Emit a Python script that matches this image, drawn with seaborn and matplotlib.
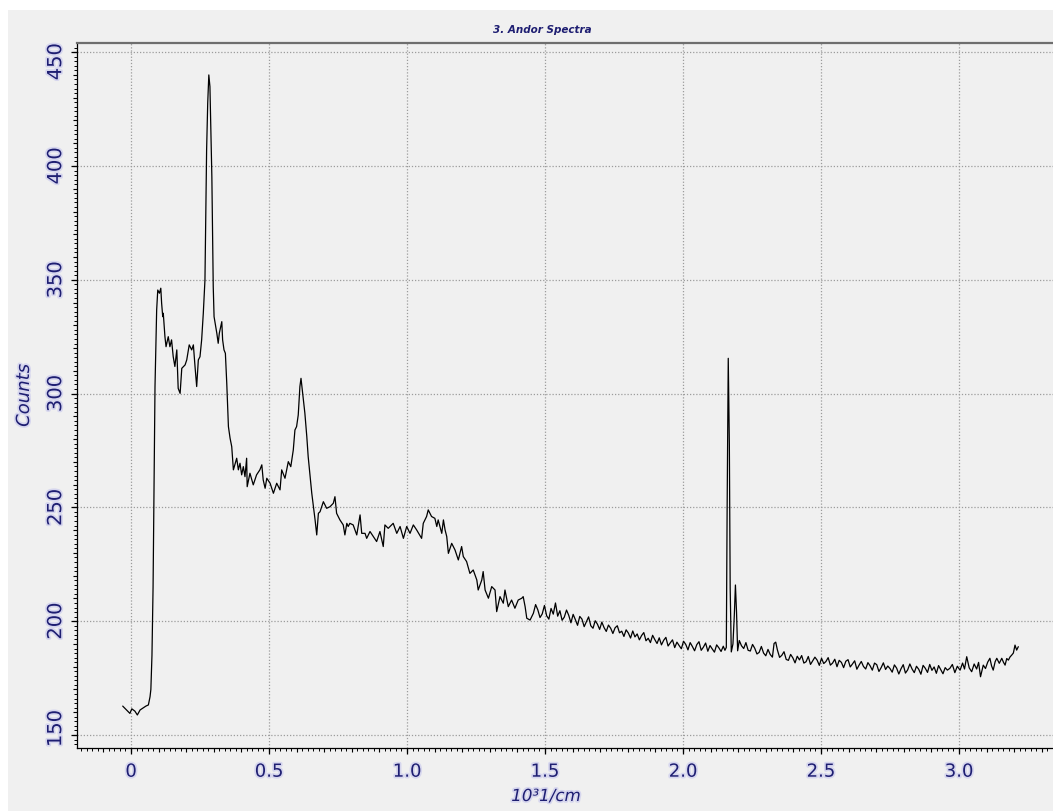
import matplotlib
matplotlib.use("Agg")
import matplotlib.pyplot as plt
import seaborn as sns
import pandas as pd
from matplotlib.ticker import MultipleLocator, NullFormatter, NullLocator
from matplotlib.patches import Rectangle
from matplotlib.transforms import ScaledTranslation
from matplotlib import patheffects as pe

# ---------------- data ----------------
wn_peaks = [
    -0.030, -0.016, -0.004, 0.003, 0.014, 0.023, 0.033, 0.045, 0.054, 0.063,
    0.069, 0.072, 0.076, 0.080, 0.083, 0.087, 0.093, 0.097, 0.103, 0.108,
    0.111, 0.115, 0.117, 0.123, 0.127, 0.135, 0.141, 0.147, 0.153, 0.159,
    0.166, 0.171, 0.178, 0.184, 0.196, 0.202, 0.211, 0.220, 0.226, 0.232,
    0.238, 0.244, 0.250, 0.256, 0.262, 0.268, 0.272, 0.274, 0.278, 0.282,
    0.286, 0.289, 0.293, 0.296, 0.298, 0.301, 0.311, 0.316, 0.320, 0.329,
    0.332, 0.337, 0.342, 0.347, 0.353, 0.359, 0.365, 0.371, 0.383, 0.389,
    0.395, 0.401, 0.407, 0.413, 0.419, 0.421, 0.431, 0.443, 0.455, 0.467,
    0.474, 0.479, 0.486, 0.492, 0.504, 0.516, 0.528, 0.540, 0.546, 0.558,
    0.570, 0.579, 0.588, 0.594, 0.600, 0.606, 0.612, 0.616, 0.622, 0.630,
    0.637, 0.642, 0.649, 0.655, 0.661, 0.667, 0.673, 0.679, 0.685, 0.697,
]
ct_peaks = [
    162.7, 161.0, 159.5, 161.5, 160.5, 158.8, 161.0, 162.0, 162.7, 163.2,
    166.8, 170.0, 185.0, 215.0, 255.0, 303.1, 336.7, 345.5, 344.1, 346.3,
    339.7, 333.8, 335.3, 325.0, 320.6, 325.0, 320.6, 323.6, 316.2, 311.9,
    319.2, 302.3, 300.1, 311.1, 312.6, 314.8, 321.4, 319.2, 321.4, 311.9,
    303.1, 314.8, 316.2, 323.6, 335.3, 349.9, 388.0, 407.1, 427.6, 440.0,
    434.9, 418.8, 395.3, 367.5, 347.0, 333.8, 326.5, 322.1, 326.5, 331.6,
    323.6, 319.2, 317.7, 304.5, 285.5, 280.4, 276.7, 266.5, 271.6, 266.5,
    269.4, 264.3, 267.9, 263.5, 271.6, 259.1, 265.0, 259.9, 264.3, 266.5,
    268.7, 262.1, 258.4, 262.8, 260.6, 256.2, 260.6, 257.7, 266.5, 262.8,
    270.1, 267.9, 275.2, 284.0, 285.5, 290.6, 303.1, 306.7, 300.2, 291.4,
    281.1, 272.3, 263.5, 256.2, 250.3, 244.5, 237.9, 247.4, 248.1, 252.5,
]

wn_plateau = [
    0.709, 0.721, 0.733, 0.739, 0.745, 0.757, 0.769, 0.775, 0.782, 0.787,
    0.793, 0.805, 0.818, 0.830, 0.836, 0.848, 0.854, 0.866, 0.878, 0.890,
    0.902, 0.914, 0.920, 0.932, 0.950, 0.963, 0.975, 0.987, 0.999, 1.011,
    1.023, 1.035, 1.053, 1.059, 1.071, 1.077, 1.083, 1.089, 1.101, 1.108,
    1.113, 1.126, 1.132, 1.138, 1.144, 1.150, 1.162, 1.174, 1.186, 1.198,
    1.204, 1.216, 1.228, 1.240, 1.253, 1.258, 1.271, 1.276, 1.283, 1.295,
    1.307, 1.319, 1.325, 1.337, 1.349, 1.355, 1.367, 1.379, 1.391, 1.403,
    1.416, 1.421, 1.428, 1.434, 1.446,
]
ct_plateau = [
    249.6, 250.3, 251.8, 254.7, 247.4, 244.5, 242.3, 237.9, 243.0, 241.6,
    243.0, 242.3, 237.9, 246.7, 238.6, 238.6, 236.4, 239.4, 237.2, 235.0,
    239.4, 232.8, 242.3, 240.8, 243.0, 238.6, 241.6, 236.4, 241.6, 238.6,
    242.3, 240.1, 236.4, 243.0, 246.0, 248.9, 247.4, 246.0, 245.2, 241.6,
    244.5, 238.6, 244.5, 240.1, 237.2, 229.8, 234.2, 231.3, 226.9, 232.8,
    228.4, 226.2, 221.0, 222.5, 218.1, 213.7, 218.1, 221.8, 213.7, 210.1,
    215.2, 213.7, 204.2, 210.8, 207.9, 213.7, 206.4, 209.3, 205.7, 209.3,
    210.1, 210.8, 206.4, 201.3, 200.5,
]

wn_tail1 = [
    1.458, 1.466, 1.474, 1.482, 1.490, 1.498, 1.506, 1.514, 1.522, 1.530,
    1.538, 1.546, 1.554, 1.562, 1.570, 1.578, 1.586, 1.594, 1.602, 1.610,
    1.618, 1.626, 1.634, 1.642, 1.650, 1.658, 1.666, 1.674, 1.682, 1.690,
    1.698, 1.706, 1.714, 1.722, 1.730, 1.738, 1.746, 1.754, 1.762, 1.770,
    1.778, 1.786, 1.794, 1.802, 1.810, 1.818, 1.826, 1.834, 1.842, 1.850,
    1.858, 1.866, 1.874, 1.882, 1.890, 1.898, 1.906, 1.914, 1.922, 1.930,
    1.938, 1.946, 1.954, 1.962, 1.970, 1.978, 1.986, 1.994, 2.002, 2.010,
    2.018, 2.026, 2.034, 2.042, 2.050, 2.058, 2.066, 2.074, 2.082, 2.090,
    2.098, 2.106, 2.114, 2.122, 2.130, 2.138, 2.146, 2.152,
]
ct_tail1 = [
    203.5, 207.3, 205.0, 201.6, 203.2, 206.9, 202.4, 200.9, 205.6, 203.1,
    208.0, 202.2, 204.6, 200.4, 201.8, 204.9, 202.6, 199.3, 203.0, 200.7,
    198.2, 202.1, 200.9, 197.6, 199.8, 201.9, 198.0, 196.9, 200.2, 198.7,
    196.4, 199.6, 197.2, 195.5, 198.3, 196.9, 194.6, 197.1, 198.0, 194.9,
    195.6, 193.3, 196.2, 194.8, 192.6, 195.7, 193.1, 194.4, 191.8, 193.7,
    195.0, 191.4, 192.5, 190.6, 193.8, 191.9, 190.2, 192.7, 189.6, 191.6,
    192.9, 189.1, 190.5, 191.8, 188.4, 190.8, 189.3, 187.9, 191.2, 189.8,
    187.4, 190.6, 188.9, 187.0, 189.7, 191.0, 187.2, 188.6, 190.4, 186.8,
    189.3, 187.8, 186.4, 189.6, 188.3, 186.7, 189.0, 187.2,
]

wn_spike = [2.157, 2.160, 2.164, 2.168, 2.171, 2.175, 2.181, 2.186, 2.190, 2.194, 2.198, 2.204]
ct_spike = [188.5, 250.3, 315.5, 277.4, 214.5, 186.5, 190.0, 202.7, 215.9, 204.0, 187.0, 191.5]

wn_tail2 = [
    2.212, 2.220, 2.228, 2.236, 2.244, 2.252, 2.260, 2.268, 2.276, 2.284,
    2.292, 2.300, 2.308, 2.316, 2.324, 2.330, 2.336, 2.342, 2.350, 2.358,
    2.366, 2.374, 2.382, 2.390, 2.398, 2.406, 2.414, 2.422, 2.430, 2.438,
    2.446, 2.454, 2.462, 2.470, 2.478, 2.486, 2.494, 2.502, 2.510, 2.518,
    2.526, 2.534, 2.542, 2.550, 2.558, 2.566, 2.574, 2.582, 2.590, 2.598,
    2.606, 2.614, 2.622, 2.630, 2.638, 2.646, 2.654, 2.662, 2.670, 2.678,
    2.686, 2.694, 2.702, 2.710, 2.718, 2.726, 2.734, 2.742, 2.750, 2.758,
    2.766, 2.774, 2.782, 2.790, 2.798, 2.806, 2.814, 2.822, 2.830, 2.838,
    2.846, 2.854, 2.862, 2.870, 2.878, 2.886, 2.894, 2.902, 2.910, 2.918,
    2.926, 2.934, 2.942, 2.950,
]
ct_tail2 = [
    189.2, 188.0, 190.6, 187.2, 186.9, 189.8, 188.1, 185.6, 186.3, 188.9,
    186.0, 184.8, 187.6, 185.4, 184.2, 190.2, 190.8, 187.4, 184.1, 185.0,
    186.6, 183.2, 182.8, 185.4, 183.9, 181.7, 184.6, 183.0, 184.9, 181.6,
    182.2, 184.5, 181.0, 182.6, 184.2, 182.9, 180.6, 183.7, 181.4, 182.3,
    184.0, 180.7, 181.6, 183.3, 180.0, 182.8, 181.9, 179.6, 182.4, 183.1,
    179.9, 181.2, 182.6, 178.9, 180.7, 182.3, 180.1, 179.0, 181.8, 180.4,
    178.5, 181.6, 180.9, 177.9, 179.6, 181.7, 178.8, 180.3, 179.2, 177.6,
    180.8, 179.4, 176.8, 179.1, 180.9, 177.2, 178.6, 181.2, 179.0, 177.4,
    180.2, 178.9, 176.7, 180.6, 179.3, 177.5, 181.0, 178.4, 179.9, 177.1,
    180.5, 178.7, 176.9, 179.6,
]

wn_end = [
    2.958, 2.967, 2.976, 2.985, 2.994, 3.004, 3.013, 3.020, 3.028, 3.037,
    3.046, 3.055, 3.064, 3.071, 3.078, 3.088, 3.096, 3.104, 3.112, 3.118,
    3.124, 3.131, 3.137, 3.146, 3.155, 3.161, 3.167, 3.173, 3.179, 3.185,
    3.191, 3.197, 3.203, 3.209, 3.215,
]
ct_end = [
    178.5, 179.3, 181.0, 177.4, 180.2, 178.5, 181.6, 179.0, 184.4, 179.5,
    177.8, 181.2, 179.0, 181.9, 175.6, 180.7, 179.2, 182.0, 183.7, 180.4,
    178.5, 182.2, 183.7, 181.5, 183.7, 182.0, 180.7, 183.6, 182.9, 184.3,
    185.1, 186.0, 189.5, 187.3, 188.8,
]

x_ticks = [0, 0.5, 1.0, 1.5, 2.0, 2.5, 3.0]
x_tick_labels = ["0", "0.5", "1.0", "1.5", "2.0", "2.5", "3.0"]
y_ticks = [150, 200, 250, 300, 350, 400, 450]
y_tick_labels = ["150", "200", "250", "300", "350", "400", "450"]
title_text = "3. Andor Spectra"
x_label = "10\u00b31/cm"
y_label = "Counts"

# ---------------- build table ----------------
wavenumber = wn_peaks + wn_plateau + wn_tail1 + wn_spike + wn_tail2 + wn_end
counts = ct_peaks + ct_plateau + ct_tail1 + ct_spike + ct_tail2 + ct_end
df = pd.DataFrame({"wavenumber": wavenumber, "counts": counts})

# ---------------- style ----------------
sns.set_style("ticks")
plt.rcParams["font.family"] = ["DejaVu Sans"]

BG = "#f0f0f0"
NAVY = "#1e1e72"
W, H = 1053, 811

fig = plt.figure(figsize=(W / 100, H / 100), dpi=100)
fig.patch.set_facecolor("white")
fig.add_artist(Rectangle((8 / W, 0), 1, 1 - 10 / H, transform=fig.transFigure,
                         facecolor=BG, edgecolor="none", zorder=-10))

left_px, right_px, top_px, bottom_px = 76.7, 1060, 43.3, 747.7
ax = fig.add_axes([left_px / W, 1 - bottom_px / H,
                   (right_px - left_px) / W, (bottom_px - top_px) / H])
ax.set_facecolor(BG)

sns.lineplot(data=df, x="wavenumber", y="counts", ax=ax, color="black",
             linewidth=0.9, estimator=None, sort=False)

ax.set_xlim(-0.1967, 3.366)
ax.set_ylim(144.42, 453.9)

# spines
ax.spines["right"].set_visible(False)
ax.spines["top"].set_color("#6e6e6e")
ax.spines["top"].set_linewidth(1.6)
for s in ("left", "bottom"):
    ax.spines[s].set_color("black")
    ax.spines[s].set_linewidth(0.9)

# grid
ax.set_axisbelow(True)
ax.grid(True, which="major", color="#9c9c9c", linestyle=(0, (1, 1.5)), linewidth=0.9)

glow = [pe.withStroke(linewidth=2.5, foreground="#d6d6ee")]

# ticks
ax.set_xticks(x_ticks, labels=x_tick_labels)
ax.set_yticks(y_ticks, labels=y_tick_labels)
ax.xaxis.set_minor_locator(MultipleLocator(0.02))
ax.yaxis.set_minor_locator(MultipleLocator(2))
ax.tick_params(axis="both", which="major", direction="out", length=4.3, width=0.9,
               color="black", labelcolor=NAVY)
ax.tick_params(axis="both", which="minor", direction="out", length=1.9, width=0.7,
               color="black")
ax.tick_params(axis="x", which="major", labelsize=13, pad=6.5)
ax.tick_params(axis="y", which="major", labelsize=14, pad=4, labelrotation=90)

for lbl in ax.get_xticklabels():
    lbl.set_path_effects(glow)
for lbl in ax.get_yticklabels():
    lbl.set_verticalalignment("center")
    lbl.set_path_effects(glow)

# clamp the end labels inside the axis like the original
ticks_y = ax.yaxis.get_major_ticks()
ticks_y[0].label1.set_transform(ticks_y[0].label1.get_transform()
                                + ScaledTranslation(0, 6.5 / 100, fig.dpi_scale_trans))
ticks_y[-1].label1.set_transform(ticks_y[-1].label1.get_transform()
                                 + ScaledTranslation(0, -9.5 / 100, fig.dpi_scale_trans))

# intermediate (medium) ticks
secx = ax.secondary_xaxis("bottom")
secx.xaxis.set_major_locator(MultipleLocator(0.1))
secx.xaxis.set_major_formatter(NullFormatter())
secx.xaxis.set_minor_locator(NullLocator())
secx.tick_params(axis="x", which="major", direction="out", length=3.0, width=0.8, color="black")
secx.spines["bottom"].set_visible(False)

secy = ax.secondary_yaxis("left")
secy.yaxis.set_major_locator(MultipleLocator(10))
secy.yaxis.set_major_formatter(NullFormatter())
secy.yaxis.set_minor_locator(NullLocator())
secy.tick_params(axis="y", which="major", direction="out", length=3.0, width=0.8, color="black")
secy.spines["left"].set_visible(False)

# labels
ax.set_xlabel(x_label, fontsize=12, style="italic", color=NAVY)
ax.set_ylabel(y_label, fontsize=13, style="italic", color=NAVY)
axw = right_px - left_px
axh = bottom_px - top_px
ax.xaxis.set_label_coords((546 - left_px) / axw, -(787 - bottom_px) / axh)
ax.yaxis.set_label_coords((33 - left_px) / axw, 0.5)
ax.xaxis.label.set_path_effects(glow)
ax.yaxis.label.set_path_effects(glow)

fig.text(542 / W, 1 - 30 / H, title_text, ha="center", va="center",
         fontsize=7.5, fontweight="bold", style="italic", color=NAVY)

fig.savefig("out.png", dpi=100, facecolor=fig.get_facecolor())
